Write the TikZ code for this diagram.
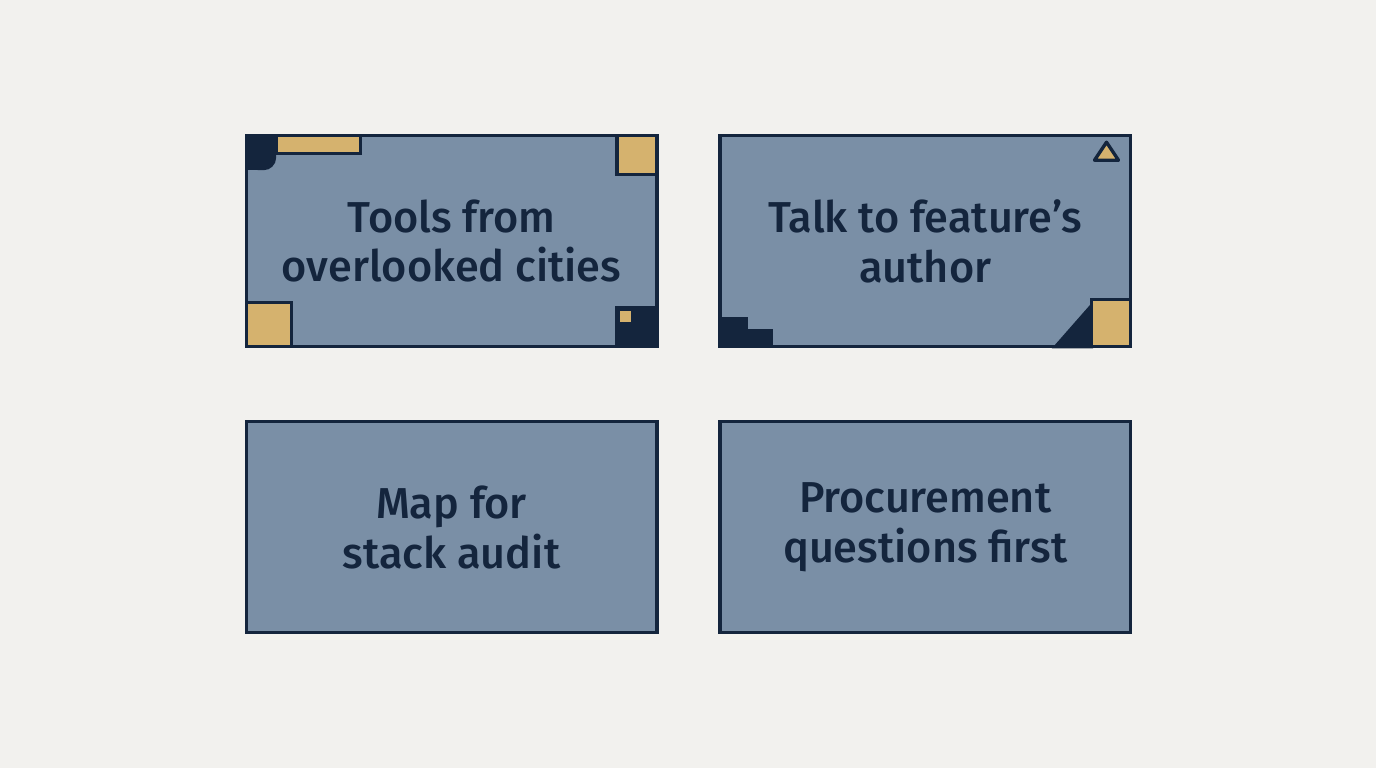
\documentclass[tikz,border=0pt]{standalone}
\usepackage{fontspec}
\setmainfont{Fira Sans}[UprightFont=* Medium, BoldFont=* SemiBold]
\usetikzlibrary{positioning, calc}
\definecolor{paper}{HTML}{F2F1EE}
\definecolor{slate}{HTML}{7A8FA6}
\definecolor{navy}{HTML}{14253D}
\definecolor{sand}{HTML}{D5B26E}

\begin{document}
\begin{tikzpicture}[x=0.01cm, y=-0.01cm,
  card/.style={fill=slate, minimum width=4.09cm, minimum height=2.10cm,
    inner sep=0pt, text=navy, align=center,
    font=\fontsize{12.3pt}{14.2pt}\selectfont},
  frame/.style={draw=navy, line width=0.95pt},
  tan/.style={fill=sand, draw=navy, line width=0.95pt},
  dark/.style={fill=navy, draw=navy, line width=0.95pt}]

% Background
\fill[paper] (0,0) rectangle (1376,768);

% Cards
\node[card] (tools) at (451.5,241) {Tools from\\overlooked cities};
\node[card, right=0.63cm of tools] (talk) {Talk to feature's\\author};
\node[card, below=0.745cm of tools] (map) {Map for\\stack audit};
\node[card, below=0.745cm of talk] (proc) {Procurement\\questions first};

% Corner marks, first card
\fill[navy, rounded corners=3.6pt] (tools.north west) rectangle ++(30,35);
\fill[navy] (tools.north west) rectangle ++(30,15);
\fill[navy] (tools.north west) rectangle ++(15,35);
\draw[tan] ($(tools.north west)+(30,0)$) rectangle ++(84,18);
\draw[tan] ($(tools.north east)+(-40,0)$) rectangle ++(40,39);
\draw[tan] ($(tools.south west)+(0,-44)$) rectangle ++(45,44);
\draw[dark] ($(tools.south east)+(-40,-39)$) rectangle ++(40,39);
\fill[sand] ($(tools.south east)+(-37,-36)$) rectangle ++(11,11);

% Corner marks, second card
\draw[tan, line join=round] ($(talk.north east)+(-24,7)$) -- ++(-12,18) -- ++(24,0) -- cycle;
\draw[dark] (talk.south west) -- ++(0,-28) -- ++(26,0) -- ++(0,12) -- ++(25,0) -- ++(0,16) -- cycle;
\draw[dark] ($(talk.south east)+(-75,0)$) -- ++(36,-41) -- ++(0,41) -- cycle;
\draw[tan] ($(talk.south east)+(-39,-47)$) rectangle ++(39,47);

% Frames on top
\foreach \c in {tools, talk, map, proc} {
  \draw[frame] (\c.north west) rectangle (\c.south east);
}

\end{tikzpicture}
\end{document}
